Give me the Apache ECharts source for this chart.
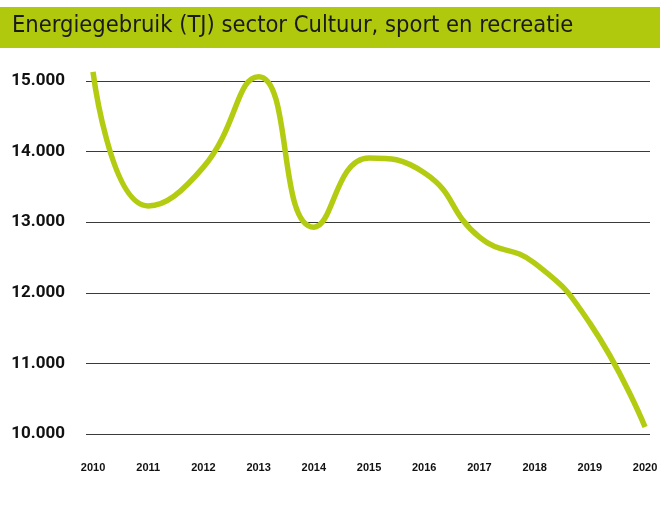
<!DOCTYPE html>
<html>
<head>
<meta charset="utf-8">
<script src="https://cdn.jsdelivr.net/npm/echarts@6/dist/echarts.min.js"></script>
<style>
  html, body { margin: 0; padding: 0; background: #fff; }
  #chart { width: 667px; height: 520px; }
</style>
</head>
<body>
<div id="chart"></div>
<script>
// jaren en energiegebruik (TJ)
var years = [2010, 2011, 2012, 2013, 2014, 2015, 2016, 2017, 2018, 2019, 2020];
var energy = [15130, 13230, 13780, 15060, 12930, 13910, 13700, 12790, 12420, 11570, 10100];
var yTicks = [10000, 11000, 12000, 13000, 14000, 15000];

var chart = echarts.init(document.getElementById("chart"));

var points = [];
years.forEach(function (y, i) {
  points.push([y, energy[i]]);
});

chart.setOption({
  animation: false,
  grid: { left: 86, right: 17, top: 81, bottom: 86 },
  graphic: [
    {
      type: "rect",
      shape: { x: 0, y: 7, width: 660, height: 41 },
      style: { fill: "#b0c90c" },
      z: 0
    },
    {
      type: "text",
      left: 12,
      top: 14,
      style: {
        text: "Energiegebruik (TJ) sector Cultuur, sport en recreatie",
        fill: "#1a1a1a",
        font: "23.5px 'Liberation Sans Narrow', 'DejaVu Sans Condensed', sans-serif"
      },
      z: 1
    }
  ],
  xAxis: {
    type: "value",
    min: 2009.873,
    max: 2020.09,
    axisLine: { show: false },
    axisTick: { show: false },
    splitLine: { show: false },
    axisLabel: {
      customValues: years,
      margin: 28,
      color: "#111",
      fontWeight: "bold",
      fontSize: 11,
      fontFamily: "Liberation Sans",
      formatter: function (v) { return String(v); }
    }
  },
  yAxis: {
    type: "value",
    min: 10000,
    max: 15000,
    interval: 1000,
    axisLine: { show: false },
    axisTick: { show: false },
    splitLine: { lineStyle: { color: "#3a3a3a", width: 1 } },
    axisLabel: {
      margin: 21,
      color: "#111",
      fontWeight: "bold",
      fontSize: 17,
      fontFamily: "Roboto",
      formatter: function (v) {
        return String(v).replace(/\B(?=(\d{3})+(?!\d))/g, ".");
      }
    }
  },
  series: [
    {
      type: "line",
      data: points,
      smooth: 0.5,
      showSymbol: false,
      lineStyle: { color: "#b3cc12", width: 5.5 },
      clip: false
    }
  ]
});
</script>
</body>
</html>
